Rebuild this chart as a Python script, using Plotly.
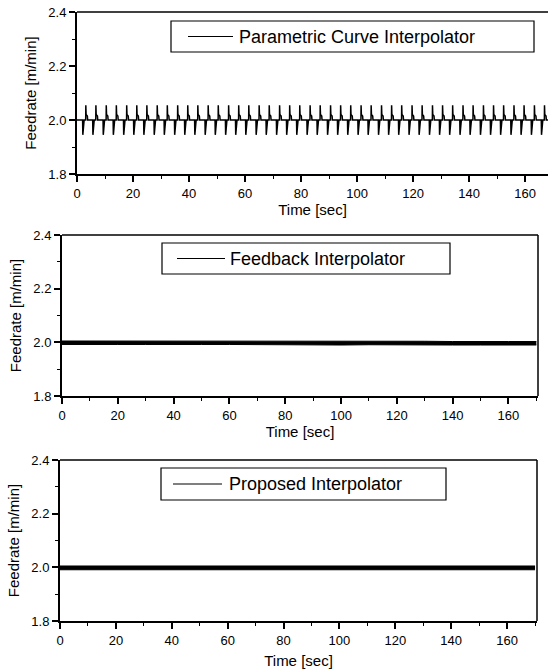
import plotly.graph_objects as go

# ---------------- data ----------------
# Panel 1: Parametric Curve Interpolator - periodic spikes around 2.0 m/min
spike_starts = [2.0, 5.6, 9.3, 12.9, 16.6, 20.2, 23.8, 27.5, 31.1, 34.8, 38.4, 42.0,
                45.7, 49.3, 53.0, 56.6, 60.2, 63.9, 67.5, 71.2, 74.8, 78.4, 82.1, 85.7,
                89.4, 93.0, 96.6, 100.3, 103.9, 107.6, 111.2, 114.8, 118.5, 122.1, 125.8,
                129.4, 133.0, 136.7, 140.3, 144.0, 147.6, 151.2, 154.9, 158.5, 162.2, 165.8]
cycle_offsets = [0.0, 0.08, 0.55, 1.10, 1.15, 1.25, 1.70, 1.80]
cycle_values = [2.000, 1.945, 2.000, 2.000, 2.055, 2.020, 2.015, 2.000]
p1_start = (0.0, 2.0)
p1_end = (168.2, 2.0)

# Panel 2: Feedback Interpolator - narrow band around 2.0
band_t = [0, 10, 20, 30, 40, 50, 60, 70, 80, 90, 100, 110, 120, 130, 140, 150, 160, 170]
fb_hi = [2.005, 2.005, 2.006, 2.005, 2.005, 2.006, 2.005, 2.005, 2.004, 2.005, 2.004,
         2.004, 2.004, 2.004, 2.003, 2.004, 2.003, 2.003]
fb_lo = [1.992, 1.993, 1.992, 1.992, 1.993, 1.992, 1.992, 1.991, 1.991, 1.991, 1.990,
         1.991, 1.990, 1.990, 1.990, 1.990, 1.990, 1.990]

# Panel 3: Proposed Interpolator - narrow band around 2.0
pr_hi = [2.005, 2.005, 2.005, 2.005, 2.004, 2.005, 2.005, 2.005, 2.005, 2.005, 2.005,
         2.005, 2.005, 2.005, 2.005, 2.005, 2.005, 2.005]
pr_lo = [1.991, 1.991, 1.991, 1.991, 1.991, 1.991, 1.991, 1.991, 1.991, 1.991, 1.991,
         1.991, 1.991, 1.991, 1.991, 1.991, 1.991, 1.991]

legend_names = ["Parametric Curve Interpolator", "Feedback Interpolator", "Proposed Interpolator"]
y_ticks = [1.8, 2.0, 2.2, 2.4]
x_ticks = [0, 20, 40, 60, 80, 100, 120, 140, 160]

# ---------------- build panel-1 series ----------------
p1_x = [p1_start[0]]
p1_y = [p1_start[1]]
for s in spike_starts:
    for dt, v in zip(cycle_offsets, cycle_values):
        p1_x.append(s + dt)
        p1_y.append(v)
p1_x.append(p1_end[0])
p1_y.append(p1_end[1])

# ---------------- layout geometry (pixels) ----------------
W, H = 548, 671
FONT = "Liberation Sans, Arial, sans-serif"
panels = [
    dict(x0=77, x1=548, y0=12, y1=174, xmax=168.2, mirror_right=False,
         box=(171, 534, 21, 52), line=(188, 233), text_x=237, xstand=1),
    dict(x0=62, x1=538, y0=235, y1=396, xmax=170.6, mirror_right=True,
         box=(162, 450, 243, 274), line=(177, 225), text_x=228, xstand=1),
    dict(x0=60, x1=537, y0=460, y1=621, xmax=170.7, mirror_right=True,
         box=(161, 446, 468, 500), line=(173, 222), text_x=227, xstand=9),
]

def px(x):
    return x / W

def py(y):
    return 1 - y / H

fig = go.Figure()

# Panel 1 trace
fig.add_trace(go.Scatter(x=p1_x, y=p1_y, mode="lines", line=dict(color="black", width=1.5),
                         xaxis="x", yaxis="y", showlegend=False, name=legend_names[0]))
# Panel 2 band
fig.add_trace(go.Scatter(x=band_t, y=fb_lo, mode="lines", line=dict(color="black", width=1),
                         xaxis="x2", yaxis="y2", showlegend=False, name=legend_names[1]))
fig.add_trace(go.Scatter(x=band_t, y=fb_hi, mode="lines", line=dict(color="black", width=1),
                         fill="tonexty", fillcolor="black",
                         xaxis="x2", yaxis="y2", showlegend=False, name=legend_names[1]))
# Panel 3 band
fig.add_trace(go.Scatter(x=band_t, y=pr_lo, mode="lines", line=dict(color="black", width=1),
                         xaxis="x3", yaxis="y3", showlegend=False, name=legend_names[2]))
fig.add_trace(go.Scatter(x=band_t, y=pr_hi, mode="lines", line=dict(color="black", width=1),
                         fill="tonexty", fillcolor="black",
                         xaxis="x3", yaxis="y3", showlegend=False, name=legend_names[2]))

layout = dict(
    width=W, height=H, autosize=False,
    margin=dict(l=0, r=0, t=0, b=0),
    paper_bgcolor="white", plot_bgcolor="white",
    font=dict(family=FONT, color="black", size=13),
    showlegend=False,
    shapes=[], annotations=[],
)

for i, p in enumerate(panels):
    sfx = "" if i == 0 else str(i + 1)
    xa = dict(
        domain=[px(p["x0"]), px(p["x1"])], range=[0, p["xmax"]],
        anchor="y" + sfx, tickvals=x_ticks, ticks="outside", ticklen=6, tickwidth=1.5,
        tickcolor="black", showline=True, linecolor="black", linewidth=2,
        mirror=False, showgrid=False, zeroline=False,
        tickfont=dict(size=13, family=FONT),
        minor=dict(dtick=10, tick0=0, ticks="outside", ticklen=3, tickwidth=1.2, tickcolor="black"),
        title=dict(text="Time [sec]", font=dict(size=15, family=FONT), standoff=p["xstand"]),
        automargin=False, fixedrange=True,
    )
    ya = dict(
        domain=[py(p["y1"]), py(p["y0"])], range=[1.8, 2.4],
        anchor="x" + sfx, tickvals=y_ticks, ticktext=[f"{v:.1f}" for v in y_ticks],
        ticks="outside", ticklen=6, tickwidth=1.5, tickcolor="black",
        showline=True, linecolor="black", linewidth=2,
        mirror=False, showgrid=False, zeroline=False,
        tickfont=dict(size=13, family=FONT),
        minor=dict(dtick=0.1, tick0=1.8, ticks="outside", ticklen=3, tickwidth=1.2, tickcolor="black"),
        title=dict(text="Feedrate [m/min]", font=dict(size=15, family=FONT), standoff=8),
        automargin=False, fixedrange=True,
    )
    layout["xaxis" + sfx] = xa
    layout["yaxis" + sfx] = ya

    # top spine
    layout["shapes"].append(dict(type="line", xref="paper", yref="paper",
                                 x0=px(p["x0"]), x1=px(p["x1"]), y0=py(p["y0"]), y1=py(p["y0"]),
                                 line=dict(color="black", width=1.5)))
    if p["mirror_right"]:
        layout["shapes"].append(dict(type="line", xref="paper", yref="paper",
                                     x0=px(p["x1"]), x1=px(p["x1"]), y0=py(p["y0"]), y1=py(p["y1"]),
                                     line=dict(color="black", width=1.5)))
    # legend box
    bx0, bx1, by0, by1 = p["box"]
    layout["shapes"].append(dict(type="rect", xref="paper", yref="paper",
                                 x0=px(bx0), x1=px(bx1), y0=py(by1), y1=py(by0),
                                 line=dict(color="black", width=1.2), fillcolor="white"))
    yc = (by0 + by1) / 2
    lx0, lx1 = p["line"]
    layout["shapes"].append(dict(type="line", xref="paper", yref="paper",
                                 x0=px(lx0), x1=px(lx1), y0=py(yc), y1=py(yc),
                                 line=dict(color="black", width=1.2)))
    layout["annotations"].append(dict(text=legend_names[i], xref="paper", yref="paper",
                                      x=px(p["text_x"]), y=py(yc), xanchor="left", yanchor="middle",
                                      showarrow=False, font=dict(size=18, family=FONT, color="black")))

fig.update_layout(**layout)
fig.write_html("out.html")
